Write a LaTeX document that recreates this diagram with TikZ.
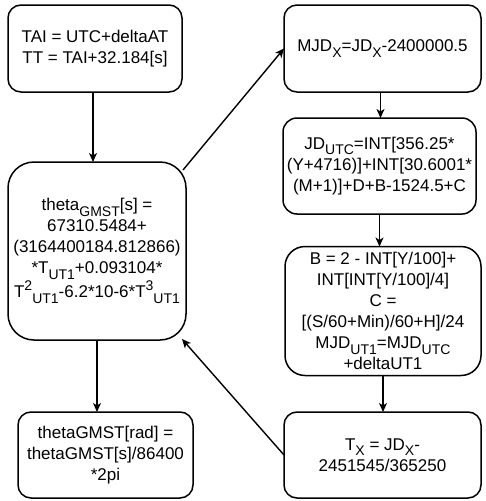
\documentclass[tikz,border=0pt]{standalone}
\usepackage{fontspec}
\setmainfont{Liberation Sans}
\usetikzlibrary{arrows.meta}
\newcommand{\sbs}[1]{\raisebox{-0.32em}{\fontsize{14}{14}\selectfont #1}}
\newcommand{\sps}[1]{\raisebox{0.45em}{\fontsize{14}{14}\selectfont #1}}
\begin{document}
\begin{tikzpicture}[x=1pt,y=-1pt,
  box/.style={draw, line width=1.5pt, rounded corners=#1, align=center,
    font=\fontsize{17}{21}\selectfont, inner sep=0pt, outer sep=0pt},
  arr/.style={line width=1.4pt, -{Stealth[length=9pt,width=8pt,inset=2.5pt]}}]
\useasboundingbox (0,0) rectangle (486,501);
\node[box=13pt, minimum width=174pt, minimum height=87pt] (A) at (95,48.5)
  {TAI = UTC+deltaAT\\TT = TAI+32.184[s]};
\node[box=26pt, minimum width=178pt, minimum height=178pt] (B) at (97,251)
  {theta\sbs{GMST}[s] =\\67310.5484+\\(3164400184.812866)\\{}*T\sbs{UT1}+0.093104*\\T\sps{2}\sbs{UT1}-6.2*10-6*T\sps{3}\sbs{UT1}};
\node[box=13pt, minimum width=175pt, minimum height=86pt] (C) at (105.5,455)
  {thetaGMST[rad] =\\thetaGMST[s]/86400\\{}*2pi};
\node[box=13pt, minimum width=197pt, minimum height=87pt] (D) at (382.5,48.5)
  {MJD\sbs{X}=JD\sbs{X}-2400000.5};
\node[box=14pt, minimum width=193pt, minimum height=96pt] (E) at (379.5,166)
  {JD\sbs{UTC}=INT[356.25*\\(Y+4716)]+INT[30.6001*\\(M+1)]+D+B-1524.5+C};
\node[box=20pt, minimum width=196pt, minimum height=129pt] (F) at (383,311)
  {B = 2 - INT[Y/100]+\\INT[INT[Y/100]/4]\\C =\\{[}(S/60+Min)/60+H]/24\\MJD\sbs{UT1}=MJD\sbs{UTC}\\+deltaUT1};
\node[box=13pt, minimum width=197pt, minimum height=86pt] (G) at (382.5,455)
  {T\sbs{X} = JD\sbs{X}-\\2451545/365250};
\draw[arr] ([xshift=-2pt]A.south) -- ([xshift=-2pt]A.south |- B.north);
\draw[arr] (B.south) -- (B.south |- C.north);
\draw[arr] ([xshift=-3pt,yshift=-8pt]B.north east) -- (D.west);
\draw[arr] (G.west) -- ([xshift=-4pt,yshift=1pt]B.south east);
\draw[arr] ([xshift=-2pt]D.south) -- ([xshift=-2pt]D.south |- E.north);
\draw[arr] (E.south) -- (E.south |- F.north);
\draw[arr] (F.south) -- (F.south |- G.north);
\end{tikzpicture}
\end{document}
